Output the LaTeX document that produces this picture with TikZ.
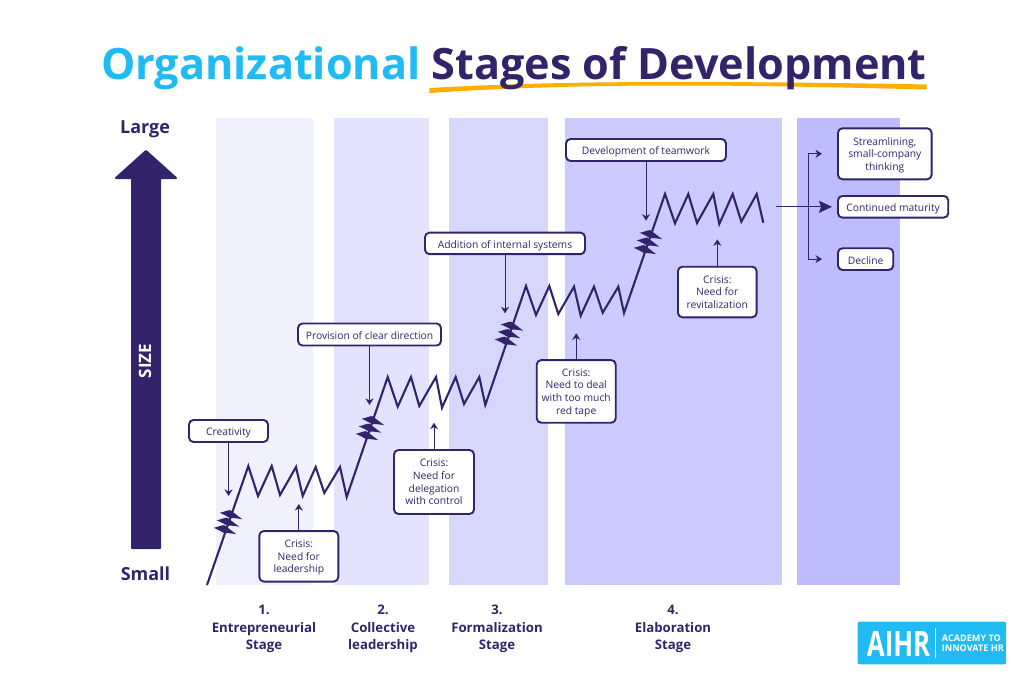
\documentclass[tikz,border=0pt]{standalone}
\usepackage{fontspec}
\setmainfont{Open Sans}
\usetikzlibrary{arrows.meta}
\definecolor{navy}{HTML}{32236B}
\definecolor{aqua}{HTML}{1FBBF2}
\definecolor{amber}{HTML}{FFAE00}
\definecolor{bandA}{HTML}{F1F1FE}
\definecolor{bandB}{HTML}{E3E3FD}
\definecolor{bandC}{HTML}{D7D7FC}
\definecolor{bandD}{HTML}{CBCBFE}
\definecolor{bandE}{HTML}{BDBCFD}
\tikzset{
  notebox/.style={draw=navy, line width=1.9pt, rounded corners=4.5pt, fill=white, text=navy, inner sep=0pt, align=center, text depth=0pt, font=\fontsize{10.3}{12.7}\selectfont},
  oneline/.style={notebox, text height=9.8pt},
  pointer/.style={-{Stealth[length=6.5pt,width=8pt,inset=2pt]}, navy, line width=1pt},
  sizelabel/.style={text=navy, font=\bfseries\fontsize{18}{20}\selectfont},
  stagelabel/.style={text=navy, align=center, font=\bfseries\fontsize{13.2}{17.3}\selectfont},
  growth/.style={navy, line width=2.1pt, miter limit=10},
  spikes/.pic={
    \foreach \xx/\yy in {3/-7.5, 0/0, -3/7.5}{
      \fill[navy] (\xx-11.3,\yy-3.2) .. controls (\xx-7,\yy-4) and (\xx-3,\yy-6.2) .. (\xx-0.8,\yy-5.8) .. controls (\xx+2,\yy-4) and (\xx+7,\yy) .. (\xx+11.3,\yy+3.2) .. controls (\xx+7,\yy+2.5) and (\xx+2,\yy+1.8) .. (\xx-1,\yy+2) .. controls (\xx-3,\yy+1) and (\xx-7,\yy-1.5) .. (\xx-11.3,\yy-3.2) -- cycle;
    }
  }
}
\begin{document}
\begin{tikzpicture}[x=1pt, y=-1pt]
    \useasboundingbox (0,0) rectangle (1024,680);

    % Title and its stroke
    \fill[amber] (429.3,88) .. controls (520,83) and (600,82) .. (680,82) .. controls (760,82) and (850,83) .. (926.7,84.5) -- (926.7,89.5) .. controls (850,87.5) and (760,85.5) .. (680,85.5) .. controls (600,85.5) and (520,87) .. (429.3,93) -- cycle;
    \node[anchor=base, font=\bfseries\fontsize{43.2}{50}\selectfont, text=navy] (title) at (514,79) {\textcolor{aqua}{Organizational} Stages of Development};

    % Background bands
    \fill[bandA] (216,118) rectangle (313,585);
    \fill[bandB] (334,118) rectangle (429,585);
    \fill[bandC] (449,118) rectangle (548,585);
    \fill[bandD] (565,118) rectangle (782,585);
    \fill[bandE] (797,118) rectangle (900,585);

    % Size axis
    \filldraw[navy, line width=2pt, line join=round] (146,151) -- (176,178) -- (160,178) -- (160,548) -- (132,548) -- (132,178) -- (116,178) -- cycle;
    \node[sizelabel] (large) at (145,129) {Large};
    \node[sizelabel] (small) at (145.5,574) {Small};
    \node[rotate=90, text=white, font=\bfseries\fontsize{17}{18}\selectfont] (size) at (145,361) {SIZE};

    % Growth line
    \draw[growth] (207,585) -- (248.3,466) -- (258,496) -- (271.7,466) -- (280,495) -- (296,467) -- (302.7,496) -- (315.7,467) -- (324.3,493) -- (340,467) -- (346.7,497)
      -- (387.7,377) -- (397.7,406.7) -- (411,377) -- (419.3,406) -- (436,377) -- (442,407.7) -- (455.7,377) -- (464,404) -- (479.3,377) -- (485.3,405)
      -- (526,286) -- (536,315) -- (549.3,286) -- (558.3,314) -- (574,286.7) -- (580.7,315.7) -- (594,286.7) -- (602.7,312.7) -- (618.3,286.7) -- (624,313)
      -- (665,194) -- (675,223.3) -- (688.3,194) -- (697,223) -- (713.3,194) -- (719.3,224) -- (732.7,194) -- (741.3,221.7) -- (756.7,194) -- (763.3,222.7);
    \pic at (228,523.5) {spikes};
    \pic at (370,429.5) {spikes};
    \pic at (509,335) {spikes};
    \pic at (648,243.5) {spikes};

    % Notes along the line
    \node[oneline, minimum width=79pt, minimum height=22pt] (creativity) at (228.5,431) {Creativity};
    \node[notebox, minimum width=79pt, minimum height=50.5pt] (leadership) at (298.8,556.3) {Crisis:\\Need for\\leadership};
    \node[oneline, minimum width=143pt, minimum height=22pt] (direction) at (369.5,334.5) {Provision of clear direction};
    \node[notebox, minimum width=80pt, minimum height=64pt] (delegation) at (434,482) {Crisis:\\Need for\\delegation\\with control};
    \node[oneline, minimum width=160pt, minimum height=21.5pt] (systems) at (505,243.4) {Addition of internal systems};
    \node[notebox, minimum width=79pt, minimum height=62.7pt] (redtape) at (576.2,391.4) {Crisis:\\Need to deal\\with too much\\red tape};
    \node[oneline, minimum width=160pt, minimum height=22pt] (teamwork) at (646,150) {Development of teamwork};
    \node[notebox, minimum width=78.7pt, minimum height=50.6pt] (revitalization) at (717.3,292) {Crisis:\\Need for\\revitalization};

    % Outcomes on the right
    \node[notebox, minimum width=93.7pt, minimum height=51pt] (streamlining) at (884.8,153.8) {Streamlining,\\small-company\\thinking};
    \node[oneline, minimum width=110.3pt, minimum height=21.7pt] (maturity) at (893.1,206.8) {Continued maturity};
    \node[oneline, minimum width=55.3pt, minimum height=21.7pt] (decline) at (865.6,259.1) {Decline};

    % Stage names
    \node[stagelabel] (stageone) at (264,629) {1.\\Entrepreneurial\\Stage};
    \node[stagelabel] (stagetwo) at (383,629) {2.\\Collective\\leadership};
    \node[stagelabel] (stagethree) at (497,629) {3.\\Formalization\\Stage};
    \node[stagelabel] (stagefour) at (673,629) {4.\\Elaboration\\Stage};

    % Arrows
    \coordinate (creativitytip) at (228.5,496);
    \coordinate (leadershiptip) at (298.8,504);
    \coordinate (directiontip) at (369.5,405);
    \coordinate (delegationtip) at (434,422.7);
    \coordinate (systemstip) at (505,313.3);
    \coordinate (redtapetip) at (576.2,333.3);
    \coordinate (teamworktip) at (646,220.7);
    \coordinate (revitalizationtip) at (717.3,239.3);
    \draw[pointer] (creativity) -- (creativitytip);
    \draw[pointer] (leadership) -- (leadershiptip);
    \draw[pointer] (direction) -- (directiontip);
    \draw[pointer] (delegation) -- (delegationtip);
    \draw[pointer] (systems) -- (systemstip);
    \draw[pointer] (redtape) -- (redtapetip);
    \draw[pointer] (teamwork) -- (teamworktip);
    \draw[pointer] (revitalization) -- (revitalizationtip);

    \coordinate (linetail) at (776,206.8);
    \coordinate (branch) at (808.3,206.8);
    \draw[-{Stealth[length=13pt,width=12pt,inset=2pt]}, navy, line width=1pt, shorten >=5pt] (linetail) -- (maturity);
    \draw[pointer, shorten >=15pt] (branch) |- (streamlining);
    \draw[pointer, shorten >=15pt] (branch) |- (decline);

    % Logo
    \node[fill=aqua, rounded corners=2pt, minimum width=148.5pt, minimum height=42.7pt] (logo) at (931.9,643) {};
    \node[anchor=base west, inner sep=0pt, text=white, font=\bfseries\fontsize{35}{35}\selectfont] (aihr) at (866.7,656) {\scalebox{0.74}[1]{AIHR}};
    \draw[white, line width=1pt] (935.7,628) -- (935.7,657.7);
    \node[anchor=west, inner sep=0pt, text=white, align=left, font=\bfseries\fontsize{9.1}{9.5}\selectfont] (academy) at (941.7,643) {ACADEMY TO\\INNOVATE HR};
\end{tikzpicture}
\end{document}
